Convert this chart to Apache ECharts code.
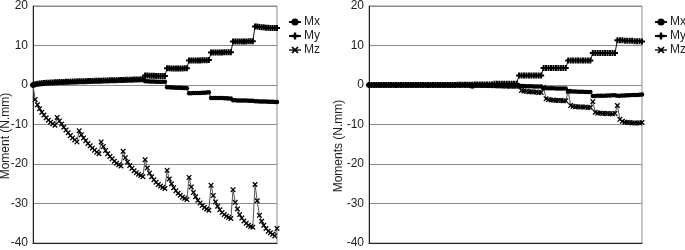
<!DOCTYPE html>
<html>
<head>
<meta charset="utf-8">
<script src="https://cdn.jsdelivr.net/npm/echarts@6/dist/echarts.min.js"></script>
<style>html,body{margin:0;padding:0;background:#fff;}#c{width:685px;height:250px;}</style>
</head>
<body>
<div id="c"></div>
<script>
// ---- data ----
var seriesNames = ['Mx', 'My', 'Mz'];
var yTicks = [-40, -30, -20, -10, 0, 10, 20];
var leftTitle = 'Moment (N.mm)';
var rightTitle = 'Moments (N.mm)';

var leftMx = [
  0, 0.1, 0.2, 0.3, 0.35, 0.4, 0.45, 0.5, 0.52, 0.55, 0.58,
  0.62, 0.64, 0.66, 0.68, 0.7, 0.72, 0.74, 0.76, 0.78, 0.8,
  0.82, 0.84, 0.86, 0.88, 0.9, 0.92, 0.94, 0.95, 0.96, 0.98,
  1.0, 1.02, 1.04, 1.06, 1.08, 1.1, 1.11, 1.12, 1.14, 1.16,
  1.18, 1.2, 1.22, 1.24, 1.26, 1.28, 1.3, 1.32, 1.34, 1.36,
  0.95, 0.95, 0.9, 0.9, 0.9, 0.85, 0.85, 0.85, 0.8, 0.8,
  -0.6, -0.6, -0.65, -0.65, -0.7, -0.7, -0.7, -0.75, -0.75, -0.8,
  -2.1, -2.1, -2.05, -2.05, -2.0, -2.0, -1.95, -1.95, -1.9, -1.85,
  -3.3, -3.3, -3.3, -3.3, -3.3, -3.3, -3.35, -3.35, -3.4, -3.4,
  -3.85, -3.85, -3.9, -3.9, -3.9, -3.95, -3.95, -4.0, -4.0, -4.0,
  -4.1, -4.1, -4.15, -4.15, -4.2, -4.2, -4.25, -4.25, -4.25, -4.3, -4.3
];
var leftMy = [
  0, 0.2, 0.3, 0.4, 0.45, 0.5, 0.55, 0.6, 0.62, 0.65, 0.68,
  0.72, 0.74, 0.76, 0.78, 0.8, 0.82, 0.84, 0.86, 0.88, 0.9,
  0.92, 0.94, 0.96, 0.98, 1.0, 1.02, 1.04, 1.05, 1.06, 1.08,
  1.1, 1.12, 1.14, 1.16, 1.18, 1.2, 1.21, 1.22, 1.24, 1.26,
  1.28, 1.3, 1.32, 1.34, 1.36, 1.38, 1.4, 1.42, 1.44, 1.46,
  2.4, 2.4, 2.35, 2.35, 2.35, 2.3, 2.3, 2.3, 2.3, 2.3,
  4.25, 4.25, 4.2, 4.2, 4.2, 4.2, 4.2, 4.2, 4.25, 4.25,
  6.2, 6.2, 6.2, 6.2, 6.2, 6.2, 6.25, 6.25, 6.25, 6.3,
  8.2, 8.2, 8.25, 8.25, 8.25, 8.25, 8.3, 8.3, 8.3, 8.3,
  11.0, 11.0, 11.0, 11.0, 11.0, 11.0, 11.0, 11.05, 11.05, 11.05,
  14.8, 14.8, 14.7, 14.6, 14.6, 14.5, 14.5, 14.4, 14.4, 14.4, 14.4
];
var leftMz = [
  0, -3.7, -5.0, -6.0, -6.9, -7.6, -8.3, -8.9, -9.4, -9.8, -10.2,
  -8.2, -9.1, -9.9, -10.7, -11.4, -12.1, -12.8, -13.4, -13.9, -14.4,
  -11.6, -12.6, -13.4, -14.1, -14.8, -15.4, -16.0, -16.5, -17.0, -17.4,
  -14.4, -15.6, -16.6, -17.4, -18.1, -18.7, -19.3, -19.8, -20.2, -20.5,
  -16.8, -18.4, -19.5, -20.4, -21.1, -21.7, -22.2, -22.6, -22.9, -23.2,
  -18.9, -21.0, -22.3, -23.2, -24.0, -24.6, -25.2, -25.6, -25.9, -26.2,
  -21.6, -23.8, -25.0, -26.0, -26.8, -27.4, -27.9, -28.4, -28.7, -29.0,
  -23.4, -25.8, -27.2, -28.3, -29.2, -29.9, -30.5, -31.0, -31.4, -31.7,
  -25.4, -28.0, -29.6, -30.7, -31.6, -32.3, -32.8, -33.2, -33.5, -33.8,
  -26.5, -29.7, -31.4, -32.8, -33.7, -34.4, -35.0, -35.5, -35.8, -36.0,
  -25.2, -29.3, -33.0, -34.5, -35.5, -36.3, -37.0, -37.4, -37.8, -38.2, -36.3
];

var rightMx = [
  0, 0, 0, 0, 0, 0, 0, 0, 0, 0, 0,
  0, 0, 0, 0, 0, 0, 0, 0, 0, 0,
  0, 0, 0, 0, 0, 0, 0, 0, 0, 0,
  0, 0, -0.05, -0.05, -0.05, -0.05, -0.05, -0.05, -0.05, -0.05,
  -0.1, -0.4, -0.1, -0.1, -0.1, -0.1, -0.1, -0.1, -0.1, -0.1,
  -0.15, -0.15, -0.15, -0.15, -0.15, -0.15, -0.15, -0.15, -0.15, -0.15,
  -0.2, -0.25, -0.25, -0.3, -0.3, -0.3, -0.35, -0.35, -0.4, -0.4,
  -0.8, -0.8, -0.85, -0.85, -0.85, -0.9, -0.9, -0.9, -0.9, -0.9,
  -1.6, -1.6, -1.65, -1.65, -1.7, -1.7, -1.7, -1.75, -1.75, -1.8,
  -2.8, -2.8, -2.75, -2.75, -2.7, -2.7, -2.65, -2.65, -2.6, -2.6,
  -2.7, -2.7, -2.65, -2.65, -2.6, -2.6, -2.55, -2.5, -2.5, -2.45, -2.4
];
var rightMy = [
  0, 0, 0, 0, 0, 0, 0, 0, 0, 0, 0,
  0, 0, 0, 0, 0, 0, 0, 0, 0, 0,
  0, 0, 0, 0, 0, 0, 0, 0, 0, 0,
  0, 0, 0, 0, 0, 0.05, 0.05, 0.05, 0.05, 0.05,
  0.05, 0.05, 0.1, 0.1, 0.1, 0.1, 0.1, 0.1, 0.1, 0.1,
  0.3, 0.3, 0.3, 0.3, 0.3, 0.3, 0.3, 0.3, 0.3, 0.3,
  2.4, 2.4, 2.4, 2.4, 2.4, 2.4, 2.4, 2.4, 2.4, 2.4,
  4.3, 4.3, 4.3, 4.3, 4.3, 4.3, 4.3, 4.3, 4.3, 4.3,
  6.2, 6.2, 6.2, 6.2, 6.2, 6.2, 6.2, 6.2, 6.2, 6.2,
  8.1, 8.1, 8.1, 8.1, 8.1, 8.1, 8.1, 8.1, 8.1, 8.1,
  11.3, 11.3, 11.3, 11.2, 11.2, 11.2, 11.2, 11.1, 11.1, 11.1, 11.0
];
var rightMz = [
  0, 0, 0, 0, 0, 0, 0, 0, 0, 0, 0,
  0, 0, 0, 0, 0, 0, 0, 0, 0, 0,
  0, 0, 0, 0, 0, 0, 0, 0, 0, 0,
  0, 0, 0, 0, 0, 0, 0, 0, 0, 0,
  0, -0.2, 0, 0, -0.05, -0.05, -0.05, -0.1, -0.1, -0.1,
  -0.2, -0.2, -0.25, -0.25, -0.25, -0.3, -0.3, -0.3, -0.3, -0.3,
  -0.3, -1.4, -1.5, -1.6, -1.7, -1.7, -1.8, -1.8, -1.9, -1.9,
  -0.6, -3.5, -3.7, -3.8, -3.8, -3.9, -3.9, -3.9, -4.0, -4.0,
  -1.6, -5.2, -5.4, -5.5, -5.5, -5.6, -5.6, -5.6, -5.7, -5.7,
  -4.2, -6.9, -7.1, -7.1, -7.2, -7.2, -7.2, -7.3, -7.3, -7.2,
  -5.2, -8.7, -9.2, -9.4, -9.5, -9.5, -9.6, -9.6, -9.6, -9.6, -9.5
];

// x positions are sample indices (no labels in the original)
var xCats = leftMz.map(function (v, i) { return String(i + 1); });

// ---- styling ----
var FONT = '"Liberation Sans", Arial, sans-serif';
var plusPath = 'path://M3,0H6V3H9V6H6V9H3V6H0V3H3Z';
var crossPath = 'path://M0,1.5L1.5,0L4.5,3L7.5,0L9,1.5L6,4.5L9,7.5L7.5,9L4.5,6L1.5,9L0,7.5L3,4.5Z';
var symbols = {Mx: 'circle', My: plusPath, Mz: crossPath};
var symSizes = {Mx: 4.5, My: 6, Mz: 5.5};
var lineColors = {Mx: '#111', My: '#111', Mz: '#555'};

function mkSeries(name, data, idx) {
  return {
    name: name, type: 'line', data: data,
    xAxisIndex: idx, yAxisIndex: idx,
    symbol: symbols[name], symbolSize: symSizes[name], showAllSymbol: true,
    itemStyle: {color: '#000'},
    lineStyle: {color: lineColors[name], width: 1},
    emphasis: {disabled: true}
  };
}

function mkX(idx) {
  return {
    type: 'category', gridIndex: idx, data: xCats, boundaryGap: false,
    axisLabel: {show: false}, axisTick: {show: false},
    axisLine: {onZero: false, lineStyle: {color: '#222', width: 1}},
    splitLine: {show: false}
  };
}
function mkY(idx) {
  return {
    type: 'value', gridIndex: idx, min: yTicks[0], max: yTicks[yTicks.length - 1], interval: 10,
    axisLabel: {color: '#222', fontFamily: FONT, fontSize: 12, margin: 5},
    axisTick: {show: false},
    axisLine: {show: true, lineStyle: {color: '#222', width: 1}},
    splitLine: {show: true, lineStyle: {color: '#8c8c8c', width: 1}}
  };
}
function mkLegend(left) {
  return {
    data: seriesNames, orient: 'vertical', left: left, top: 11, width: 40,
    itemWidth: 12, itemHeight: 9, itemGap: 2,
    textStyle: {color: '#222', fontFamily: FONT, fontSize: 12, padding: [0, 0, 0, -2], overflow: 'none', width: 30},
    selectedMode: false
  };
}

var chart = echarts.init(document.getElementById('c'), null, {renderer: 'canvas'});
chart.setOption({
  animation: false,
  backgroundColor: '#fff',
  grid: [
    {left: 33, top: 6, width: 244, height: 237, show: true, borderColor: '#8c8c8c', borderWidth: 1, backgroundColor: 'transparent'},
    {left: 369, top: 6, width: 273, height: 237, show: true, borderColor: '#8c8c8c', borderWidth: 1, backgroundColor: 'transparent'}
  ],
  xAxis: [mkX(0), mkX(1)],
  yAxis: [mkY(0), mkY(1)],
  legend: [mkLegend(283), mkLegend(649)],
  graphic: [
    {type: 'text', x: 6, y: 136, rotation: Math.PI / 2,
     style: {text: leftTitle, fill: '#222', font: '12px ' + FONT, align: 'center', verticalAlign: 'middle'}},
    {type: 'text', x: 339, y: 146, rotation: Math.PI / 2,
     style: {text: rightTitle, fill: '#222', font: '12px ' + FONT, align: 'center', verticalAlign: 'middle'}}
  ],
  series: [
    mkSeries('Mx', leftMx, 0), mkSeries('My', leftMy, 0), mkSeries('Mz', leftMz, 0),
    mkSeries('Mx', rightMx, 1), mkSeries('My', rightMy, 1), mkSeries('Mz', rightMz, 1)
  ]
});
</script>
</body>
</html>
